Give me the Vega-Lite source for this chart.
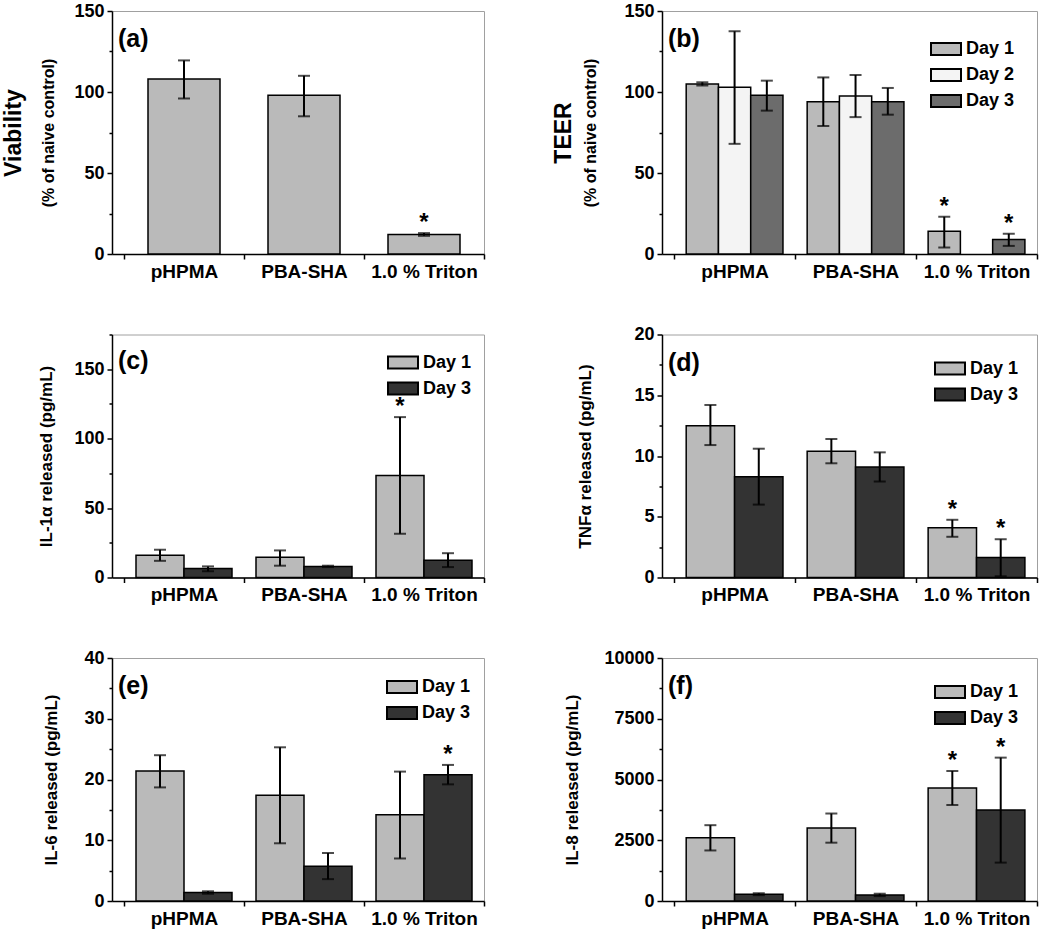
{
  "$schema": "https://vega.github.io/schema/vega-lite/v6.json",
  "background": "white",
  "padding": {"left": 1, "top": 1, "right": 5, "bottom": 0},
  "config": {
    "font": "Liberation Sans",
    "view": {"stroke": "#a0a0a0", "strokeWidth": 1},
    "axis": {"labelFont": "Liberation Sans", "labelFontWeight": "bold", "labelColor": "black", "titleFont": "Liberation Sans", "titleFontWeight": "bold", "titleColor": "black", "domainColor": "black", "domainWidth": 1.5, "tickColor": "black", "tickWidth": 1.5, "grid": false},
    "axisX": {"labelFontSize": 19, "labelAngle": 0, "tickSize": 5, "labelPadding": 3, "tickBand": "extent", "title": null},
    "axisY": {"labelFontSize": 18, "tickSize": 5, "labelPadding": 3, "minExtent": 40, "maxExtent": 40, "titleFontSize": 17, "orient": "left"},
    "title": {"anchor": "start", "frame": "group", "fontSize": 25, "fontWeight": "bold", "dx": 6, "color": "black", "font": "Liberation Sans"},
    "legend": {"orient": "top-right", "padding": 0, "labelFont": "Liberation Sans", "labelFontSize": 18, "labelFontWeight": "bold", "labelColor": "black", "symbolType": "M-1,-0.4H1V0.4H-1Z", "symbolSize": 900, "symbolStrokeColor": "black", "symbolStrokeWidth": 2, "labelOffset": 4, "rowPadding": 0, "symbolOpacity": 1, "title": null}
  },
  "datasets": {
    "a": [
      {"group": "pHPMA", "day": "Day 1", "value": 108, "lo": 96, "hi": 119.5, "sig": ""},
      {"group": "PBA-SHA", "day": "Day 1", "value": 98, "lo": 85, "hi": 110, "sig": ""},
      {"group": "1.0 % Triton", "day": "Day 1", "value": 12, "lo": 11.2, "hi": 12.9, "sig": "*"}
    ],
    "b": [
      {"group": "pHPMA", "day": "Day 1", "value": 105, "lo": 104, "hi": 106, "sig": ""},
      {"group": "pHPMA", "day": "Day 2", "value": 103, "lo": 68, "hi": 137.5, "sig": ""},
      {"group": "pHPMA", "day": "Day 3", "value": 98, "lo": 88.5, "hi": 107, "sig": ""},
      {"group": "PBA-SHA", "day": "Day 1", "value": 94, "lo": 79, "hi": 109, "sig": ""},
      {"group": "PBA-SHA", "day": "Day 2", "value": 97.5, "lo": 84.5, "hi": 110.5, "sig": ""},
      {"group": "PBA-SHA", "day": "Day 3", "value": 94, "lo": 86, "hi": 102.5, "sig": ""},
      {"group": "1.0 % Triton", "day": "Day 1", "value": 14, "lo": 4, "hi": 23, "sig": "*"},
      {"group": "1.0 % Triton", "day": "Day 3", "value": 9, "lo": 5, "hi": 12.5, "sig": "*"}
    ],
    "c": [
      {"group": "pHPMA", "day": "Day 1", "value": 16, "lo": 12, "hi": 20, "sig": ""},
      {"group": "pHPMA", "day": "Day 3", "value": 6.5, "lo": 4.5, "hi": 8, "sig": ""},
      {"group": "PBA-SHA", "day": "Day 1", "value": 14.5, "lo": 8.5, "hi": 19.5, "sig": ""},
      {"group": "PBA-SHA", "day": "Day 3", "value": 8, "lo": 7.5, "hi": 8.5, "sig": ""},
      {"group": "1.0 % Triton", "day": "Day 1", "value": 73.5, "lo": 31.5, "hi": 115.5, "sig": "*"},
      {"group": "1.0 % Triton", "day": "Day 3", "value": 12.5, "lo": 7.5, "hi": 17.5, "sig": ""}
    ],
    "d": [
      {"group": "pHPMA", "day": "Day 1", "value": 12.5, "lo": 10.9, "hi": 14.2, "sig": ""},
      {"group": "pHPMA", "day": "Day 3", "value": 8.3, "lo": 6, "hi": 10.6, "sig": ""},
      {"group": "PBA-SHA", "day": "Day 1", "value": 10.4, "lo": 9.4, "hi": 11.4, "sig": ""},
      {"group": "PBA-SHA", "day": "Day 3", "value": 9.1, "lo": 7.9, "hi": 10.3, "sig": ""},
      {"group": "1.0 % Triton", "day": "Day 1", "value": 4.1, "lo": 3.35, "hi": 4.75, "sig": "*"},
      {"group": "1.0 % Triton", "day": "Day 3", "value": 1.65, "lo": 0.1, "hi": 3.15, "sig": "*"}
    ],
    "e": [
      {"group": "pHPMA", "day": "Day 1", "value": 21.4, "lo": 18.7, "hi": 24, "sig": ""},
      {"group": "pHPMA", "day": "Day 3", "value": 1.4, "lo": 1.2, "hi": 1.6, "sig": ""},
      {"group": "PBA-SHA", "day": "Day 1", "value": 17.4, "lo": 9.5, "hi": 25.3, "sig": ""},
      {"group": "PBA-SHA", "day": "Day 3", "value": 5.7, "lo": 3.6, "hi": 7.9, "sig": ""},
      {"group": "1.0 % Triton", "day": "Day 1", "value": 14.2, "lo": 7, "hi": 21.3, "sig": ""},
      {"group": "1.0 % Triton", "day": "Day 3", "value": 20.8, "lo": 19.2, "hi": 22.4, "sig": "*"}
    ],
    "f": [
      {"group": "pHPMA", "day": "Day 1", "value": 2600, "lo": 2080, "hi": 3120, "sig": ""},
      {"group": "pHPMA", "day": "Day 3", "value": 280, "lo": 240, "hi": 320, "sig": ""},
      {"group": "PBA-SHA", "day": "Day 1", "value": 3000, "lo": 2400, "hi": 3600, "sig": ""},
      {"group": "PBA-SHA", "day": "Day 3", "value": 250, "lo": 200, "hi": 300, "sig": ""},
      {"group": "1.0 % Triton", "day": "Day 1", "value": 4650, "lo": 3950, "hi": 5350, "sig": "*"},
      {"group": "1.0 % Triton", "day": "Day 3", "value": 3750, "lo": 1580, "hi": 5900, "sig": "*"}
    ]
  },
  "columns": 2,
  "spacing": {"row": 42.5, "column": 65},
  "resolve": {"scale": {"fill": "independent", "x": "independent", "y": "independent", "xOffset": "independent"}, "legend": {"fill": "independent"}},
  "concat": [
    {
      "width": 372, "height": 243,
      "title": {"text": "(a)", "offset": -50},
      "data": {"name": "a"},
      "resolve": {"axis": {"y": "independent"}},
      "layer": [
        {"mark": {"type": "bar", "stroke": "black", "strokeWidth": 1.5, "fill": "#bababa", "width": {"band": 0.6}},
         "encoding": {
           "x": {"field": "group", "type": "nominal", "sort": ["pHPMA", "PBA-SHA", "1.0 % Triton"], "scale": {"paddingInner": 0, "paddingOuter": 0.05, "align": 1}, "axis": {"title": null}},
           "y": {"field": "value", "type": "quantitative", "scale": {"domain": [0, 150], "nice": false}, "axis": {"orient": "left", "values": [0, 50, 100, 150], "title": "(% of naive control)", "titleFontSize": 16, "titlePadding": 16}}
         }},
        {"mark": {"type": "rule", "strokeWidth": 2, "color": "black"},
         "encoding": {
           "x": {"field": "group", "type": "nominal", "sort": ["pHPMA", "PBA-SHA", "1.0 % Triton"]},
           "y": {"field": "lo", "type": "quantitative", "scale": {"domain": [0, 150], "nice": false}, "axis": null},
           "y2": {"field": "hi"}
         }},
        {"mark": {"type": "tick", "size": 12, "thickness": 2, "color": "black"},
         "encoding": {
           "x": {"field": "group", "type": "nominal", "sort": ["pHPMA", "PBA-SHA", "1.0 % Triton"]},
           "y": {"field": "lo", "type": "quantitative", "scale": {"domain": [0, 150], "nice": false}, "axis": {"orient": "left", "values": [25, 75, 125], "labels": false, "domain": false, "tickSize": 3, "title": null}}
         }},
        {"mark": {"type": "tick", "size": 12, "thickness": 2, "color": "black"},
         "encoding": {
           "x": {"field": "group", "type": "nominal", "sort": ["pHPMA", "PBA-SHA", "1.0 % Triton"]},
           "y": {"field": "hi", "type": "quantitative", "scale": {"domain": [0, 150], "nice": false}, "axis": {"orient": "left", "title": "Viability", "titleFontSize": 23, "labels": false, "ticks": false, "domain": false, "titlePadding": 47}}
         }},
        {"transform": [{"filter": "datum.sig == '*'"}],
         "mark": {"type": "text", "fontSize": 24, "fontWeight": "bold", "baseline": "alphabetic", "dy": -3, "color": "black"},
         "encoding": {
           "x": {"field": "group", "type": "nominal", "sort": ["pHPMA", "PBA-SHA", "1.0 % Triton"]},
           "y": {"field": "hi", "type": "quantitative", "scale": {"domain": [0, 150], "nice": false}, "axis": null},
           "text": {"field": "sig"}
         }}
      ]
    },
    {
      "width": 375, "height": 243,
      "title": {"text": "(b)", "offset": -50},
      "data": {"name": "b"},
      "resolve": {"axis": {"y": "independent"}},
      "layer": [
        {"mark": {"type": "bar", "stroke": "black", "strokeWidth": 1.5},
         "encoding": {
           "x": {"field": "group", "type": "nominal", "sort": ["pHPMA", "PBA-SHA", "1.0 % Triton"], "scale": {"paddingInner": 0, "paddingOuter": 0.05, "align": 1}, "axis": {"title": null}},
           "xOffset": {"field": "day", "type": "nominal", "scale": {"domain": ["Day 1", "Day 2", "Day 3"], "paddingInner": 0, "paddingOuter": 0.375}},
           "y": {"field": "value", "type": "quantitative", "scale": {"domain": [0, 150], "nice": false}, "axis": {"orient": "left", "values": [0, 50, 100, 150], "title": "(% of naive control)", "titleFontSize": 16, "titlePadding": 24}},
           "fill": {"field": "day", "type": "nominal", "scale": {"domain": ["Day 1", "Day 2", "Day 3"], "range": ["#bababa", "#f4f4f4", "#6c6c6c"]}, "legend": {"offset": 22}}
         }},
        {"mark": {"type": "rule", "strokeWidth": 2, "color": "black"},
         "encoding": {
           "x": {"field": "group", "type": "nominal", "sort": ["pHPMA", "PBA-SHA", "1.0 % Triton"]},
           "xOffset": {"field": "day", "type": "nominal"},
           "y": {"field": "lo", "type": "quantitative", "scale": {"domain": [0, 150], "nice": false}, "axis": null},
           "y2": {"field": "hi"}
         }},
        {"mark": {"type": "tick", "size": 12, "thickness": 2, "color": "black"},
         "encoding": {
           "x": {"field": "group", "type": "nominal", "sort": ["pHPMA", "PBA-SHA", "1.0 % Triton"]},
           "xOffset": {"field": "day", "type": "nominal"},
           "y": {"field": "lo", "type": "quantitative", "scale": {"domain": [0, 150], "nice": false}, "axis": {"orient": "left", "values": [25, 75, 125], "labels": false, "domain": false, "tickSize": 3, "title": null}}
         }},
        {"mark": {"type": "tick", "size": 12, "thickness": 2, "color": "black"},
         "encoding": {
           "x": {"field": "group", "type": "nominal", "sort": ["pHPMA", "PBA-SHA", "1.0 % Triton"]},
           "xOffset": {"field": "day", "type": "nominal"},
           "y": {"field": "hi", "type": "quantitative", "scale": {"domain": [0, 150], "nice": false}, "axis": {"orient": "left", "title": "TEER", "titleFontSize": 23, "labels": false, "ticks": false, "domain": false, "titlePadding": 47}}
         }},
        {"transform": [{"filter": "datum.sig == '*'"}],
         "mark": {"type": "text", "fontSize": 24, "fontWeight": "bold", "baseline": "alphabetic", "dy": -3, "color": "black"},
         "encoding": {
           "x": {"field": "group", "type": "nominal", "sort": ["pHPMA", "PBA-SHA", "1.0 % Triton"]},
           "xOffset": {"field": "day", "type": "nominal"},
           "y": {"field": "hi", "type": "quantitative", "scale": {"domain": [0, 150], "nice": false}, "axis": null},
           "text": {"field": "sig"}
         }}
      ]
    },
    {
      "width": 372, "height": 243,
      "title": {"text": "(c)", "offset": -40},
      "data": {"name": "c"},
      "resolve": {"axis": {"y": "independent"}},
      "layer": [
        {"mark": {"type": "bar", "stroke": "black", "strokeWidth": 1.5},
         "encoding": {
           "x": {"field": "group", "type": "nominal", "sort": ["pHPMA", "PBA-SHA", "1.0 % Triton"], "scale": {"paddingInner": 0, "paddingOuter": 0.05, "align": 1}, "axis": {"title": null}},
           "xOffset": {"field": "day", "type": "nominal", "scale": {"domain": ["Day 1", "Day 3"], "paddingInner": 0, "paddingOuter": 0.25}},
           "y": {"field": "value", "type": "quantitative", "scale": {"domain": [0, 175], "nice": false}, "axis": {"orient": "left", "values": [0, 50, 100, 150], "title": "IL-1α released (pg/mL)", "titlePadding": 17}},
           "fill": {"field": "day", "type": "nominal", "scale": {"domain": ["Day 1", "Day 3"], "range": ["#bababa", "#333333"]}, "legend": {"offset": 12}}
         }},
        {"mark": {"type": "rule", "strokeWidth": 2, "color": "black"},
         "encoding": {
           "x": {"field": "group", "type": "nominal", "sort": ["pHPMA", "PBA-SHA", "1.0 % Triton"]},
           "xOffset": {"field": "day", "type": "nominal"},
           "y": {"field": "lo", "type": "quantitative", "scale": {"domain": [0, 175], "nice": false}, "axis": null},
           "y2": {"field": "hi"}
         }},
        {"mark": {"type": "tick", "size": 12, "thickness": 2, "color": "black"},
         "encoding": {
           "x": {"field": "group", "type": "nominal", "sort": ["pHPMA", "PBA-SHA", "1.0 % Triton"]},
           "xOffset": {"field": "day", "type": "nominal"},
           "y": {"field": "lo", "type": "quantitative", "scale": {"domain": [0, 175], "nice": false}, "axis": {"orient": "left", "values": [25, 75, 125, 175], "labels": false, "domain": false, "tickSize": 3, "title": null}}
         }},
        {"mark": {"type": "tick", "size": 12, "thickness": 2, "color": "black"},
         "encoding": {
           "x": {"field": "group", "type": "nominal", "sort": ["pHPMA", "PBA-SHA", "1.0 % Triton"]},
           "xOffset": {"field": "day", "type": "nominal"},
           "y": {"field": "hi", "type": "quantitative", "scale": {"domain": [0, 175], "nice": false}, "axis": null}
         }},
        {"transform": [{"filter": "datum.sig == '*'"}],
         "mark": {"type": "text", "fontSize": 24, "fontWeight": "bold", "baseline": "alphabetic", "dy": -3, "color": "black"},
         "encoding": {
           "x": {"field": "group", "type": "nominal", "sort": ["pHPMA", "PBA-SHA", "1.0 % Triton"]},
           "xOffset": {"field": "day", "type": "nominal"},
           "y": {"field": "hi", "type": "quantitative", "scale": {"domain": [0, 175], "nice": false}, "axis": null},
           "text": {"field": "sig"}
         }}
      ]
    },
    {
      "width": 375, "height": 243,
      "title": {"text": "(d)", "offset": -50},
      "data": {"name": "d"},
      "resolve": {"axis": {"y": "independent"}},
      "layer": [
        {"mark": {"type": "bar", "stroke": "black", "strokeWidth": 1.5},
         "encoding": {
           "x": {"field": "group", "type": "nominal", "sort": ["pHPMA", "PBA-SHA", "1.0 % Triton"], "scale": {"paddingInner": 0, "paddingOuter": 0.05, "align": 1}, "axis": {"title": null}},
           "xOffset": {"field": "day", "type": "nominal", "scale": {"domain": ["Day 1", "Day 3"], "paddingInner": 0, "paddingOuter": 0.25}},
           "y": {"field": "value", "type": "quantitative", "scale": {"domain": [0, 20], "nice": false}, "axis": {"orient": "left", "values": [0, 5, 10, 15, 20], "title": "TNFα released (pg/mL)", "titlePadding": 28}},
           "fill": {"field": "day", "type": "nominal", "scale": {"domain": ["Day 1", "Day 3"], "range": ["#bababa", "#333333"]}, "legend": {"offset": 18}}
         }},
        {"mark": {"type": "rule", "strokeWidth": 2, "color": "black"},
         "encoding": {
           "x": {"field": "group", "type": "nominal", "sort": ["pHPMA", "PBA-SHA", "1.0 % Triton"]},
           "xOffset": {"field": "day", "type": "nominal"},
           "y": {"field": "lo", "type": "quantitative", "scale": {"domain": [0, 20], "nice": false}, "axis": null},
           "y2": {"field": "hi"}
         }},
        {"mark": {"type": "tick", "size": 12, "thickness": 2, "color": "black"},
         "encoding": {
           "x": {"field": "group", "type": "nominal", "sort": ["pHPMA", "PBA-SHA", "1.0 % Triton"]},
           "xOffset": {"field": "day", "type": "nominal"},
           "y": {"field": "lo", "type": "quantitative", "scale": {"domain": [0, 20], "nice": false}, "axis": {"orient": "left", "values": [2.5, 7.5, 12.5, 17.5], "labels": false, "domain": false, "tickSize": 3, "title": null}}
         }},
        {"mark": {"type": "tick", "size": 12, "thickness": 2, "color": "black"},
         "encoding": {
           "x": {"field": "group", "type": "nominal", "sort": ["pHPMA", "PBA-SHA", "1.0 % Triton"]},
           "xOffset": {"field": "day", "type": "nominal"},
           "y": {"field": "hi", "type": "quantitative", "scale": {"domain": [0, 20], "nice": false}, "axis": null}
         }},
        {"transform": [{"filter": "datum.sig == '*'"}],
         "mark": {"type": "text", "fontSize": 24, "fontWeight": "bold", "baseline": "alphabetic", "dy": -3, "color": "black"},
         "encoding": {
           "x": {"field": "group", "type": "nominal", "sort": ["pHPMA", "PBA-SHA", "1.0 % Triton"]},
           "xOffset": {"field": "day", "type": "nominal"},
           "y": {"field": "hi", "type": "quantitative", "scale": {"domain": [0, 20], "nice": false}, "axis": null},
           "text": {"field": "sig"}
         }}
      ]
    },
    {
      "width": 372, "height": 243,
      "title": {"text": "(e)", "offset": -50},
      "data": {"name": "e"},
      "resolve": {"axis": {"y": "independent"}},
      "layer": [
        {"mark": {"type": "bar", "stroke": "black", "strokeWidth": 1.5},
         "encoding": {
           "x": {"field": "group", "type": "nominal", "sort": ["pHPMA", "PBA-SHA", "1.0 % Triton"], "scale": {"paddingInner": 0, "paddingOuter": 0.05, "align": 1}, "axis": {"title": null}},
           "xOffset": {"field": "day", "type": "nominal", "scale": {"domain": ["Day 1", "Day 3"], "paddingInner": 0, "paddingOuter": 0.25}},
           "y": {"field": "value", "type": "quantitative", "scale": {"domain": [0, 40], "nice": false}, "axis": {"orient": "left", "values": [0, 10, 20, 30, 40], "title": "IL-6 released (pg/mL)", "titlePadding": 12}},
           "fill": {"field": "day", "type": "nominal", "scale": {"domain": ["Day 1", "Day 3"], "range": ["#bababa", "#333333"]}, "legend": {"offset": 13}}
         }},
        {"mark": {"type": "rule", "strokeWidth": 2, "color": "black"},
         "encoding": {
           "x": {"field": "group", "type": "nominal", "sort": ["pHPMA", "PBA-SHA", "1.0 % Triton"]},
           "xOffset": {"field": "day", "type": "nominal"},
           "y": {"field": "lo", "type": "quantitative", "scale": {"domain": [0, 40], "nice": false}, "axis": null},
           "y2": {"field": "hi"}
         }},
        {"mark": {"type": "tick", "size": 12, "thickness": 2, "color": "black"},
         "encoding": {
           "x": {"field": "group", "type": "nominal", "sort": ["pHPMA", "PBA-SHA", "1.0 % Triton"]},
           "xOffset": {"field": "day", "type": "nominal"},
           "y": {"field": "lo", "type": "quantitative", "scale": {"domain": [0, 40], "nice": false}, "axis": {"orient": "left", "values": [5, 15, 25, 35], "labels": false, "domain": false, "tickSize": 3, "title": null}}
         }},
        {"mark": {"type": "tick", "size": 12, "thickness": 2, "color": "black"},
         "encoding": {
           "x": {"field": "group", "type": "nominal", "sort": ["pHPMA", "PBA-SHA", "1.0 % Triton"]},
           "xOffset": {"field": "day", "type": "nominal"},
           "y": {"field": "hi", "type": "quantitative", "scale": {"domain": [0, 40], "nice": false}, "axis": null}
         }},
        {"transform": [{"filter": "datum.sig == '*'"}],
         "mark": {"type": "text", "fontSize": 24, "fontWeight": "bold", "baseline": "alphabetic", "dy": -3, "color": "black"},
         "encoding": {
           "x": {"field": "group", "type": "nominal", "sort": ["pHPMA", "PBA-SHA", "1.0 % Triton"]},
           "xOffset": {"field": "day", "type": "nominal"},
           "y": {"field": "hi", "type": "quantitative", "scale": {"domain": [0, 40], "nice": false}, "axis": null},
           "text": {"field": "sig"}
         }}
      ]
    },
    {
      "width": 375, "height": 243,
      "title": {"text": "(f)", "offset": -50},
      "data": {"name": "f"},
      "resolve": {"axis": {"y": "independent"}},
      "layer": [
        {"mark": {"type": "bar", "stroke": "black", "strokeWidth": 1.5},
         "encoding": {
           "x": {"field": "group", "type": "nominal", "sort": ["pHPMA", "PBA-SHA", "1.0 % Triton"], "scale": {"paddingInner": 0, "paddingOuter": 0.05, "align": 1}, "axis": {"title": null}},
           "xOffset": {"field": "day", "type": "nominal", "scale": {"domain": ["Day 1", "Day 3"], "paddingInner": 0, "paddingOuter": 0.25}},
           "y": {"field": "value", "type": "quantitative", "scale": {"domain": [0, 10000], "nice": false}, "axis": {"orient": "left", "values": [0, 2500, 5000, 7500, 10000], "format": "d", "title": "IL-8 released (pg/mL)", "titlePadding": 41}},
           "fill": {"field": "day", "type": "nominal", "scale": {"domain": ["Day 1", "Day 3"], "range": ["#bababa", "#333333"]}, "legend": {"offset": 18}}
         }},
        {"mark": {"type": "rule", "strokeWidth": 2, "color": "black"},
         "encoding": {
           "x": {"field": "group", "type": "nominal", "sort": ["pHPMA", "PBA-SHA", "1.0 % Triton"]},
           "xOffset": {"field": "day", "type": "nominal"},
           "y": {"field": "lo", "type": "quantitative", "scale": {"domain": [0, 10000], "nice": false}, "axis": null},
           "y2": {"field": "hi"}
         }},
        {"mark": {"type": "tick", "size": 12, "thickness": 2, "color": "black"},
         "encoding": {
           "x": {"field": "group", "type": "nominal", "sort": ["pHPMA", "PBA-SHA", "1.0 % Triton"]},
           "xOffset": {"field": "day", "type": "nominal"},
           "y": {"field": "lo", "type": "quantitative", "scale": {"domain": [0, 10000], "nice": false}, "axis": {"orient": "left", "values": [1250, 3750, 6250, 8750], "labels": false, "domain": false, "tickSize": 3, "title": null}}
         }},
        {"mark": {"type": "tick", "size": 12, "thickness": 2, "color": "black"},
         "encoding": {
           "x": {"field": "group", "type": "nominal", "sort": ["pHPMA", "PBA-SHA", "1.0 % Triton"]},
           "xOffset": {"field": "day", "type": "nominal"},
           "y": {"field": "hi", "type": "quantitative", "scale": {"domain": [0, 10000], "nice": false}, "axis": null}
         }},
        {"transform": [{"filter": "datum.sig == '*'"}],
         "mark": {"type": "text", "fontSize": 24, "fontWeight": "bold", "baseline": "alphabetic", "dy": -3, "color": "black"},
         "encoding": {
           "x": {"field": "group", "type": "nominal", "sort": ["pHPMA", "PBA-SHA", "1.0 % Triton"]},
           "xOffset": {"field": "day", "type": "nominal"},
           "y": {"field": "hi", "type": "quantitative", "scale": {"domain": [0, 10000], "nice": false}, "axis": null},
           "text": {"field": "sig"}
         }}
      ]
    }
  ]
}
